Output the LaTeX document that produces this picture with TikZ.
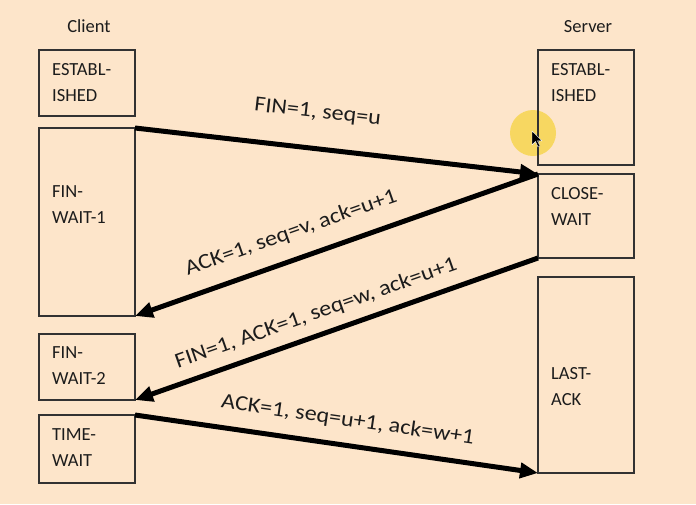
\documentclass[tikz,border=0pt]{standalone}
\usepackage{fontspec}
\setmainfont{Carlito}
\newfontfamily\lblfont[FakeStretch=1.12]{Carlito}
\usetikzlibrary{arrows.meta}
\definecolor{bg}{RGB}{253,229,202}
\definecolor{hl}{RGB}{247,214,86}
\definecolor{ink}{RGB}{28,28,28}
\definecolor{edge}{RGB}{50,50,50}
\begin{document}
\begin{tikzpicture}[x=1pt,y=-1pt,
  statebox/.style={draw=edge, line width=1.2pt, inner sep=0pt, outer sep=0pt, minimum width=96pt},
  statetext/.style={anchor=north west, inner sep=0pt, align=left, font=\fontsize{18.5}{26}\selectfont, text=ink},
  msg/.style={line width=5pt, draw=black, -{Triangle[length=18pt,width=15pt]}},
  msglabel/.style={anchor=base, inner sep=0pt, font=\lblfont\fontsize{21.5}{26}\selectfont, text=ink},
  side/.style={anchor=base, inner sep=0pt, font=\fontsize{18.5}{22}\selectfont, text=ink}]
\fill[bg] (0,0) rectangle (696,504);
\useasboundingbox (0,0) rectangle (696,504);

% cursor highlight
\fill[hl, opacity=0.9] (533,133) circle[radius=23];

% titles
\node[side] (client) at (89,32) {Client};
\node[side] (server) at (588,32) {Server};

% client states
\node[statebox, minimum height=66pt]  (cest) at (87,83) {};
\node[statebox, minimum height=188pt] (fw1)  at (87,222) {};
\node[statebox, minimum height=66pt]  (fw2)  at (87,367) {};
\node[statebox, minimum height=68pt]  (tw)   at (87,449) {};
% server states
\node[statebox, minimum height=115pt] (sest) at (586,107.5) {};
\node[statebox, minimum height=84pt]  (cw)   at (586,216) {};
\node[statebox, minimum height=196pt] (la)   at (586,375) {};

% state texts
\node[statetext] (tcest) at (52,63)  {ESTABL-\\ISHED};
\node[statetext] (tfw1)  at (52,185) {FIN-\\WAIT-1};
\node[statetext] (tfw2)  at (52,346) {FIN-\\WAIT-2};
\node[statetext] (ttw)   at (52,428) {TIME-\\WAIT};
\node[statetext] (tsest) at (551,63)  {ESTABL-\\ISHED};
\node[statetext] (tcw)   at (551,187) {CLOSE-\\WAIT};
\node[statetext] (tla)   at (551,367) {LAST-\\ACK};

% messages
\draw[msg] (fw1.north east) -- (cw.north west);
\draw[msg] (cw.north west) -- (fw1.south east);
\draw[msg] (cw.south west) -- (fw2.south east);
\draw[msg] (tw.north east) -- (la.south west);

% message labels
\node[msglabel, rotate=-6.5] (l1) at (317,118) {FIN=1, seq=u};
\node[msglabel, rotate=19.4] (l2) at (293,238) {ACK=1, seq=v, ack=u+1};
\node[msglabel, rotate=19.4] (l3) at (318,319) {FIN=1, ACK=1, seq=w, ack=u+1};
\node[msglabel, rotate=-8.2] (l4) at (347,426) {ACK=1, seq=u+1, ack=w+1};

% mouse pointer
\fill[black, draw=white, line width=0.4pt] (532,131) -- (532,145) -- (535.5,141.5) -- (538,147) -- (540,146) -- (537.5,140.8) -- (542,140.8) -- cycle;
\end{tikzpicture}
\end{document}
